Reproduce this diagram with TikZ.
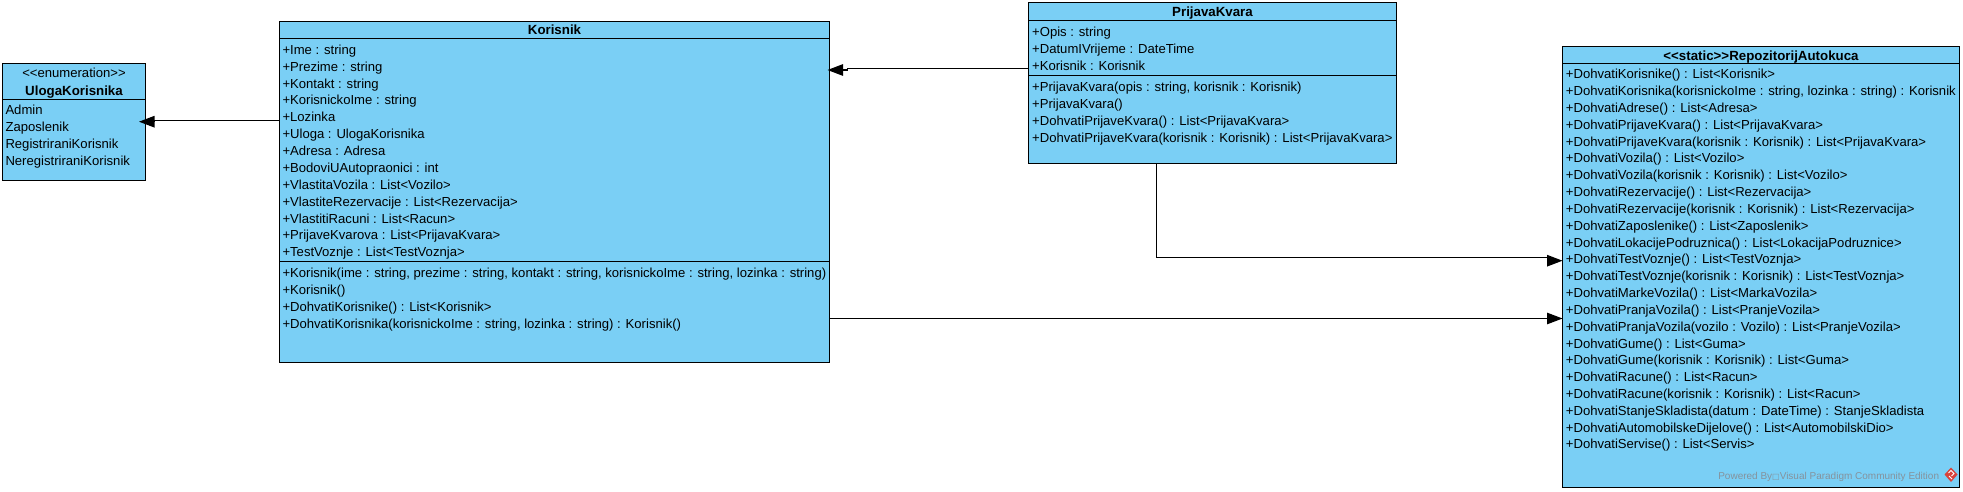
\documentclass[tikz,border=0pt]{standalone}
\usepackage{fontspec}
\setmainfont{Liberation Sans}
\newfontfamily\boxfont{DejaVu Sans}
\usetikzlibrary{arrows.meta}
\definecolor{umlfill}{HTML}{7ACFF5}
\definecolor{footgray}{HTML}{85929C}
\definecolor{logored}{HTML}{D8433B}
\tikzset{
  umlbox/.style={draw=black,fill=umlfill,line width=1.1pt,rectangle,inner sep=0pt,outer sep=0pt,anchor=north west},
  divider/.style={line width=1.1pt},
  txt/.style={font=\fontsize{13.1pt}{15pt}\selectfont,inner sep=0pt,anchor=base west},
  ttl/.style={font=\fontsize{13.1pt}{15pt}\selectfont,inner sep=0pt,anchor=base},
  ttlb/.style={ttl,font=\fontsize{13.3pt}{15pt}\selectfont\bfseries},
  assoc/.style={line width=1.1pt,-{Triangle[length=15.5pt,width=11.5pt]}},
}
\begin{document}
\begin{tikzpicture}[x=1pt,y=-1pt]
\useasboundingbox (0,0) rectangle (1963,492);
\fill[white] (0,0) rectangle (1963,492);
% boxes
\node[umlbox,minimum width=143pt,minimum height=117pt] (uloga) at (2.5,63.5) {};
\node[umlbox,minimum width=550pt,minimum height=341pt] (korisnik) at (279.5,21.5) {};
\node[umlbox,minimum width=368pt,minimum height=161pt] (prijava) at (1028.5,2.5) {};
\node[umlbox,minimum width=397pt,minimum height=441pt] (repo) at (1562.5,46.5) {};
% dividers
\draw[divider] (uloga.west |- 0,99.5) -- (uloga.east |- 0,99.5);
\draw[divider] (korisnik.west |- 0,38.5) -- (korisnik.east |- 0,38.5);
\draw[divider] (korisnik.west |- 0,261.5) -- (korisnik.east |- 0,261.5);
\draw[divider] (prijava.west |- 0,20.5) -- (prijava.east |- 0,20.5);
\draw[divider] (prijava.west |- 0,75.5) -- (prijava.east |- 0,75.5);
\draw[divider] (repo.west |- 0,63.5) -- (repo.east |- 0,63.5);
% titles
\node[ttl] (ulogastereo) at (74,78) {<\kern0pt<enumeration>\kern0pt>};
\node[ttlb] (ulogatitle) at (74,96) {UlogaKorisnika};
\node[ttlb] (korisniktitle) at (554.5,35) {Korisnik};
\node[ttlb] (prijavatitle) at (1212.5,17) {PrijavaKvara};
\node[ttlb] (repotitle) at (1761,61) {<\kern0pt<static>\kern0pt>RepozitorijAutokuca};
% members
\foreach \t [count=\i] in {Admin,Zaposlenik,RegistriraniKorisnik,NeregistriraniKorisnik}
  \node[txt] (ulogaattr\i) at (5.3,{114.9+16.9*(\i-1)}) {\t};
\foreach \t [count=\i] in {+Ime : string,+Prezime : string,+Kontakt : string,+KorisnickoIme : string,+Lozinka,+Uloga : UlogaKorisnika,+Adresa : Adresa,+BodoviUAutopraonici : int,{+VlastitaVozila : List<Vozilo>},{+VlastiteRezervacije : List<Rezervacija>},{+VlastitiRacuni : List<Racun>},{+PrijaveKvarova : List<PrijavaKvara>},{+TestVoznje : List<TestVoznja>}}
  \node[txt] (korattr\i) at (282.3,{54.3+16.87*(\i-1)}) {\t};
\foreach \t [count=\i] in {{+Korisnik(ime : string, prezime : string, kontakt : string, korisnickoIme : string, lozinka : string)},{+Korisnik()},{+DohvatiKorisnike() : List<Korisnik>},{+DohvatiKorisnika(korisnickoIme : string, lozinka : string) : Korisnik()}}
  \node[txt] (korop\i) at (282.3,{277.3+17*(\i-1)}) {\t};
\foreach \t [count=\i] in {+Opis : string,+DatumIVrijeme : DateTime,+Korisnik : Korisnik}
  \node[txt] (prattr\i) at (1032,{36.3+17*(\i-1)}) {\t};
\foreach \t [count=\i] in {{+PrijavaKvara(opis : string, korisnik : Korisnik)},{+PrijavaKvara()},{+DohvatiPrijaveKvara() : List<PrijavaKvara>},{+DohvatiPrijaveKvara(korisnik : Korisnik) : List<PrijavaKvara>}}
  \node[txt] (prop\i) at (1032,{91.6+16.9*(\i-1)}) {\t};
\foreach \t [count=\i] in {{+DohvatiKorisnike() : List<Korisnik>},{+DohvatiKorisnika(korisnickoIme : string, lozinka : string) : Korisnik},{+DohvatiAdrese() : List<Adresa>},{+DohvatiPrijaveKvara() : List<PrijavaKvara>},{+DohvatiPrijaveKvara(korisnik : Korisnik) : List<PrijavaKvara>},{+DohvatiVozila() : List<Vozilo>},{+DohvatiVozila(korisnik : Korisnik) : List<Vozilo>},{+DohvatiRezervacije() : List<Rezervacija>},{+DohvatiRezervacije(korisnik : Korisnik) : List<Rezervacija>},{+DohvatiZaposlenike() : List<Zaposlenik>},{+DohvatiLokacijePodruznica() : List<LokacijaPodruznice>},{+DohvatiTestVoznje() : List<TestVoznja>},{+DohvatiTestVoznje(korisnik : Korisnik) : List<TestVoznja>},{+DohvatiMarkeVozila() : List<MarkaVozila>},{+DohvatiPranjaVozila() : List<PranjeVozila>},{+DohvatiPranjaVozila(vozilo : Vozilo) : List<PranjeVozila>},{+DohvatiGume() : List<Guma>},{+DohvatiGume(korisnik : Korisnik) : List<Guma>},{+DohvatiRacune() : List<Racun>},{+DohvatiRacune(korisnik : Korisnik) : List<Racun>},{+DohvatiStanjeSkladista(datum : DateTime) : StanjeSkladista},{+DohvatiAutomobilskeDijelove() : List<AutomobilskiDio>},{+DohvatiServise() : List<Servis>}}
  \node[txt] (repoop\i) at (1565.7,{78.9+16.82*(\i-1)}) {\t};
% connectors
\draw[assoc,shorten >=-6.5pt] (korisnik.west |- 0,120.5) -- (154.5,120.5) -- (154.5,121.7) -- (uloga.east |- 0,121.7);
\draw[assoc,shorten >=-2pt] (prijava.west |- 0,68.5) -- (847.7,68.5) -- (847.7,70) -- (korisnik.east |- 0,70);
\draw[assoc] (prijava.south -| 1156.5,0) -- (1156.5,257.5) -- (1549,257.5) -- (1549,260.7) -- (repo.west |- 0,260.7);
\draw[assoc] (korisnik.east |- 0,318.5) -- (repo.west |- 0,318.5);
% footer
\node[font=\fontsize{10pt}{13pt}\selectfont,text=footgray,inner sep=0pt,anchor=base east] (footer) at (1939.3,479.5) {Powered By{\boxfont\fontsize{8pt}{13pt}\selectfont □}Visual Paradigm Community Edition};
% logo
\fill[logored] (1951,467.5) -- (1957.5,474.5) -- (1951,482) -- (1944.5,474.5) -- cycle;
\draw[white,line width=1pt] (1948.5,473) -- (1951,470.5) -- (1954,473.5) -- (1951.5,476) (1949,476) -- (1952,479);
\end{tikzpicture}
\end{document}
